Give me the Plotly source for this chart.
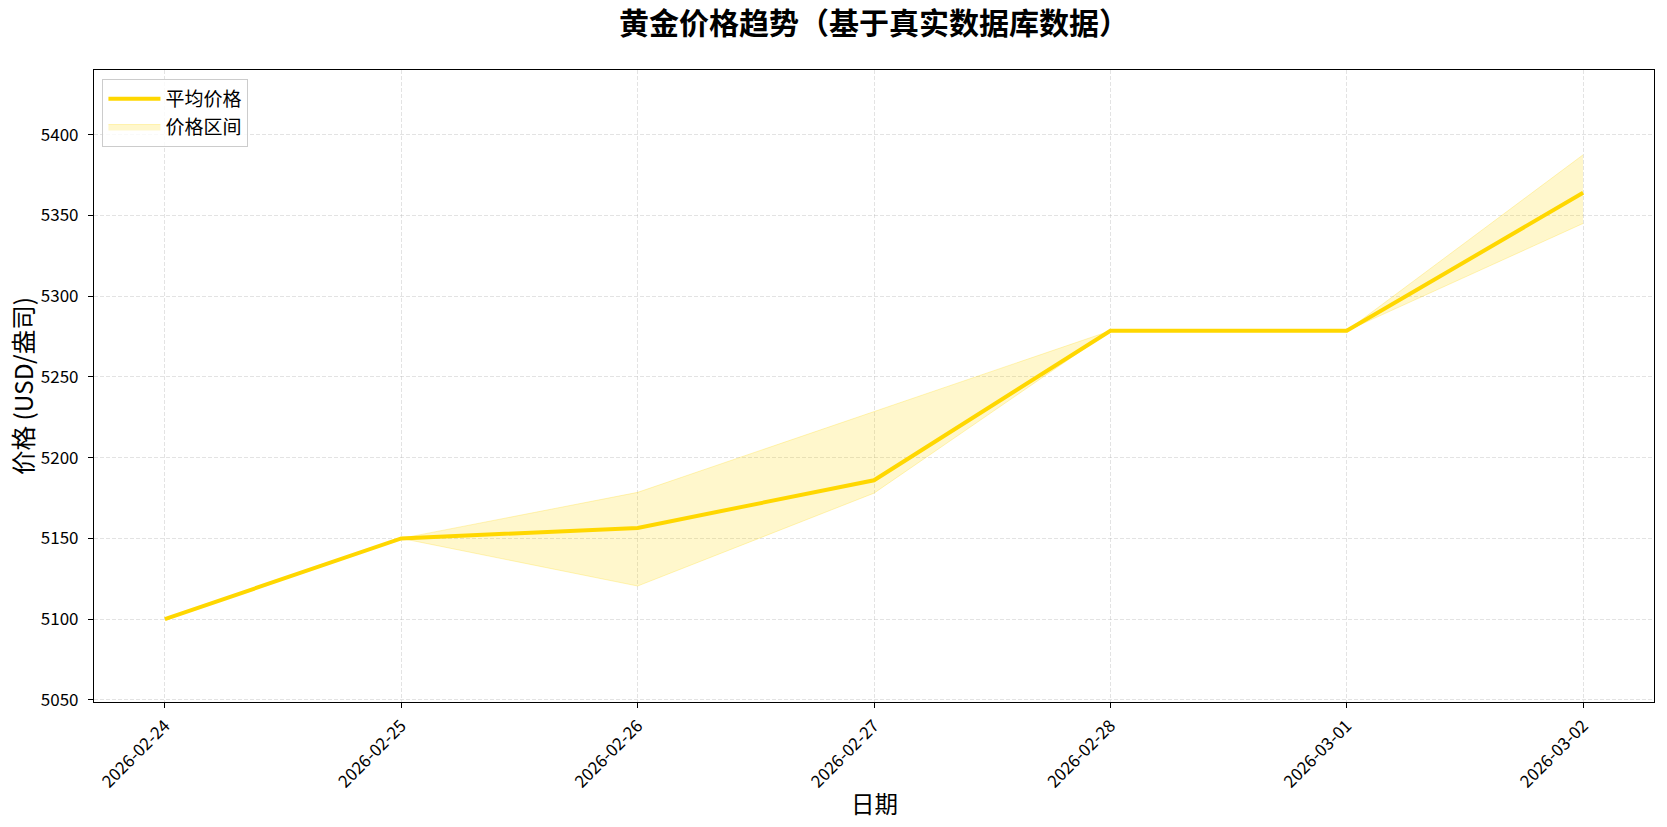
import plotly.graph_objects as go

# 每日黄金价格（USD/盎司）
dates = ['2026-02-24', '2026-02-25', '2026-02-26', '2026-02-27',
         '2026-02-28', '2026-03-01', '2026-03-02']
avg_price = [5100, 5150, 5156.5, 5186, 5278.5, 5278.5, 5364]
min_price = [5100, 5150, 5120.5, 5178, 5278.5, 5278.5, 5345]
max_price = [5100, 5150, 5178.5, 5228.5, 5278.5, 5278.5, 5387.5]
y_ticks = [5050, 5100, 5150, 5200, 5250, 5300, 5350, 5400]

GOLD = '#FFD700'
FONT = 'Noto Sans CJK SC, DejaVu Sans, sans-serif'

W, H = 1667, 827

fig = go.Figure()

# 价格区间 (min -> max)
fig.add_trace(go.Scatter(
    x=dates, y=min_price, mode='lines',
    line=dict(color='rgba(255,215,0,0.25)', width=1),
    showlegend=False, hoverinfo='skip', legendgroup='band'
))
fig.add_trace(go.Scatter(
    x=dates, y=max_price, mode='lines', fill='tonexty',
    fillcolor='rgba(255,215,0,0.2)',
    line=dict(color='rgba(255,215,0,0.25)', width=1),
    name='价格区间', legendrank=2, legendgroup='band'
))

fig.add_trace(go.Scatter(
    x=dates, y=avg_price, mode='lines',
    line=dict(color=GOLD, width=4),
    name='平均价格', legendrank=1, legendgroup='avg'
))

axis_style = dict(
    showline=True, linecolor='black', linewidth=1.1, mirror=True,
    ticks='outside', ticklen=5, tickcolor='black', tickwidth=1,
    showgrid=True, gridcolor='rgba(176,176,176,0.35)', griddash='4px,2px', gridwidth=1,
    zeroline=False, automargin=False,
    tickfont=dict(size=17, color='black', family=FONT),
)

fig.update_layout(
    width=W, height=H,
    paper_bgcolor='white', plot_bgcolor='white',
    font=dict(family=FONT, color='black'),
    margin=dict(l=93.5, r=13, t=70, b=125.4),
    title=dict(
        text='<b>黄金价格趋势（基于真实数据库数据）</b>',
        font=dict(size=30, family=FONT, color='black'),
        x=0.5, xref='paper', xanchor='center',
        y=1 - 23.4 / H, yref='container', yanchor='middle'
    ),
    xaxis=dict(
        axis_style,
        type='date',
        range=['2026-02-23 16:48', '2026-03-02 07:12'],
        tickformat='%Y-%m-%d', dtick=86400000, tick0='2026-02-24',
        tickangle=-45, ticklabelstandoff=1,
    ),
    yaxis=dict(
        axis_style,
        range=[5048.7, 5440],
        tickvals=y_ticks, ticklabelstandoff=6,
    ),
    legend=dict(
        x=0.0054, y=0.9858, xanchor='left', yanchor='top',
        bgcolor='rgba(255,255,255,0.8)', bordercolor='#cccccc', borderwidth=1,
        font=dict(size=19, family=FONT),
        traceorder='grouped', tracegroupgap=0, itemwidth=52,
    ),
    showlegend=True,
)

# 坐标轴标题（用注释精确定位）
fig.add_annotation(
    text='日期', xref='paper', yref='paper', x=0.5, y=-0.1605,
    xanchor='center', yanchor='middle', showarrow=False,
    font=dict(size=23.5, family=FONT, color='black')
)
fig.add_annotation(
    text='价格 (USD/盎司)', xref='paper', yref='paper', x=-0.0461, y=0.5,
    xanchor='center', yanchor='middle', showarrow=False, textangle=-90,
    font=dict(size=24.5, family=FONT, color='black')
)

# 去掉页面默认的 8px body 边距，让图贴齐窗口
fig.write_html("out.html", config={'displayModeBar': False},
               post_script="document.body.style.margin='0';")
